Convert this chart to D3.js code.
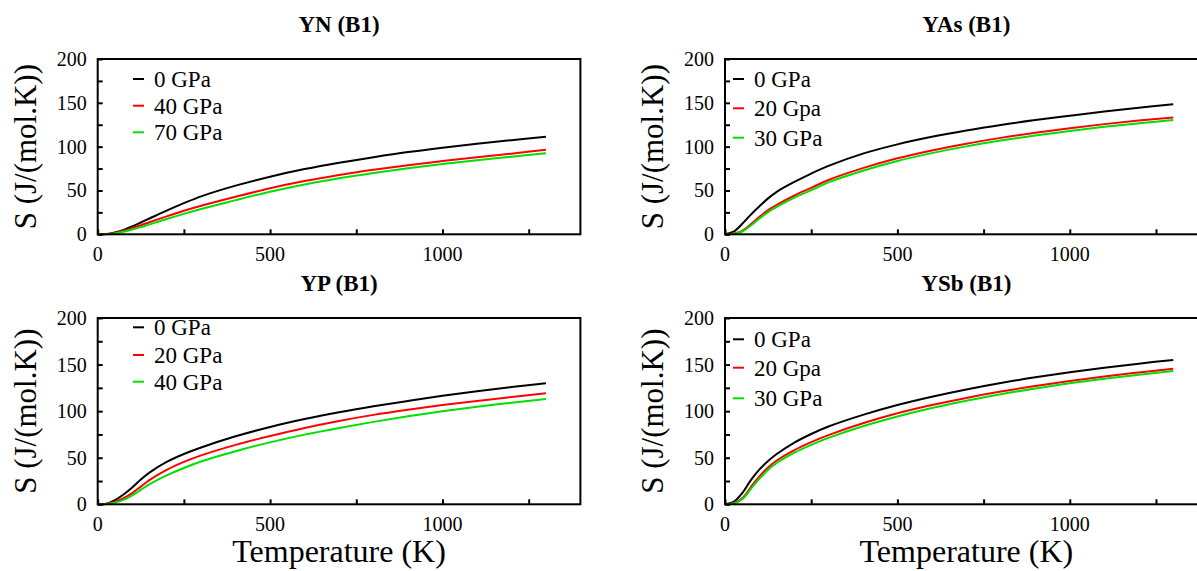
<!DOCTYPE html>
<html>
<head>
<meta charset="utf-8">
<script src="https://cdn.jsdelivr.net/npm/d3@7"></script>
<style>
  html, body { margin: 0; padding: 0; background: #fff; }
  svg { display: block; font-family: "Liberation Serif", "Times New Roman", serif; }
</style>
</head>
<body>
<svg id="chart" width="1197" height="571"></svg>
<script>
// Temperature grid (K) shared by all curves
const temps = [0, 25, 50, 75, 100, 125, 150, 200, 250, 300, 400, 500, 600, 700, 800, 900, 1000, 1100, 1200, 1300];

// Entropy S (J/(mol.K)) for each compound and pressure
const ynS0   = [0, 0.3, 2, 5, 9, 13.5, 18, 27, 35.5, 43.3, 55.5, 65.7, 74.4, 81.7, 88, 93.8, 98.8, 103.3, 107.4, 111.2];
const ynS40  = [0, 0.2, 1.5, 4, 7, 10.3, 13.8, 20.5, 26.8, 32.5, 42.8, 52.5, 60.7, 67.6, 73.6, 78.9, 83.6, 88, 92, 96.5];
const ynS70  = [0, 0.1, 1, 3, 5.5, 8.2, 11.3, 17.5, 23.3, 28.8, 39, 48.6, 56.9, 63.9, 70, 75.4, 80.2, 84.5, 88.5, 92.4];

const yasS0  = [0, 3, 12, 22.5, 32, 41, 48.5, 59.5, 69.3, 78, 92, 102.6, 111.2, 118.5, 124.8, 130.3, 135.3, 140.2, 144.5, 148.5];
const yasS20 = [0, 0.8, 4, 11.5, 20, 27.5, 33.5, 44, 53, 62, 75.5, 86.7, 95.7, 103.4, 110, 115.8, 121, 125.7, 129.7, 133.2];
const yasS30 = [0, 0.6, 3.2, 10, 18, 25.3, 31.2, 41.5, 50.3, 59.2, 72.5, 83.6, 92.6, 100.3, 106.9, 112.7, 117.9, 122.6, 126.6, 130.3];

const ypS0   = [0, 0.6, 4.5, 10.5, 18, 26.5, 34, 45.5, 54, 61, 73, 83, 91.5, 98.8, 105.2, 111, 116.5, 121.3, 125.8, 130];
const ypS20  = [0, 0.4, 2.8, 6.5, 12, 19, 26, 37, 45.5, 52.5, 63.8, 73.3, 82, 89.5, 96, 101.5, 106.5, 111, 115.2, 119.2];
const ypS40  = [0, 0.3, 1.8, 4.8, 9.5, 15.5, 21.5, 31, 39, 46, 57, 66.5, 74.8, 82, 88.5, 94.5, 100, 104.8, 109, 113];

const ysbS0  = [0, 2.5, 12, 26, 37.5, 46.5, 54, 66, 75.5, 83.5, 96, 106.6, 115.5, 123.3, 130.2, 136.3, 141.8, 146.6, 151, 155];
const ysbS20 = [0, 1.2, 6.5, 18.5, 30, 39.5, 47, 58, 66.8, 74.3, 87, 97.7, 106.5, 114.2, 121, 127, 132.4, 137.2, 141.5, 145.6];
const ysbS30 = [0, 1, 5.5, 16.5, 27.5, 37, 44.3, 55.2, 63.8, 71.3, 83.8, 94.3, 103.4, 111.2, 118.2, 124.3, 129.9, 134.7, 139, 143];

// Panel titles, legend labels and tick values
const titles = ["YN (B1)", "YAs (B1)", "YP (B1)", "YSb (B1)"];
const legendLabels = [
  ["0 GPa", "40 GPa", "70 GPa"],
  ["0 GPa", "20 Gpa", "30 GPa"],
  ["0 GPa", "20 GPa", "40 GPa"],
  ["0 GPa", "20 Gpa", "30 GPa"]
];
const seriesValues = [
  [ynS0, ynS40, ynS70],
  [yasS0, yasS20, yasS30],
  [ypS0, ypS20, ypS40],
  [ysbS0, ysbS20, ysbS30]
];
const xTickLabels = [0, 500, 1000];
const yTickLabels = [0, 50, 100, 150, 200];
const seriesColors = ["#000000", "#ff0000", "#00e000"];

const xLabel = "Temperature (K)";
const yLabel = "S (J/(mol.K))";

// Panel frames in page pixels
const frames = [
  { left: 97.7, top: 59, bottom: 234.3, legendX: 133, legendY: [79, 105.7, 132.3], showX: false },
  { left: 725,  top: 59, bottom: 234.3, legendX: 733, legendY: [79, 108.3, 137.7], showX: false },
  { left: 97.7, top: 318, bottom: 504.3, legendX: 133, legendY: [327.3, 355, 381.7], showX: true },
  { left: 725,  top: 318, bottom: 504.3, legendX: 733, legendY: [339.3, 367.7, 398.3], showX: true }
];
const plotWidth = 482.7;

const svg = d3.select("#chart");

frames.forEach((f, i) => {
  const x = d3.scaleLinear().domain([0, 1400]).range([f.left, f.left + plotWidth]);
  const y = d3.scaleLinear().domain([0, 200]).range([f.bottom, f.top]);
  const g = svg.append("g");

  // curves
  const line = d3.line()
    .x((d, k) => x(temps[k]))
    .y(d => y(d))
    .curve(d3.curveCatmullRom.alpha(0.5));
  seriesValues[i].forEach((vals, s) => {
    g.append("path")
      .attr("d", line(vals))
      .attr("fill", "none")
      .attr("stroke", seriesColors[s])
      .attr("stroke-width", 2);
  });

  // inward ticks on bottom and left
  const xAxis = d3.axisTop(x).tickValues(d3.range(0, 1400, 250)).tickSize(5).tickFormat("");
  g.append("g").attr("transform", `translate(0,${f.bottom})`).call(xAxis)
    .call(a => a.select(".domain").remove())
    .selectAll("line").attr("stroke", "#000").attr("stroke-width", 2);
  const yAxis = d3.axisRight(y).tickValues(d3.range(0, 201, 25)).tickSize(5).tickFormat("");
  g.append("g").attr("transform", `translate(${f.left},0)`).call(yAxis)
    .call(a => a.select(".domain").remove())
    .selectAll("line").attr("stroke", "#000").attr("stroke-width", 2);

  // frame
  g.append("rect")
    .attr("x", f.left).attr("y", f.top)
    .attr("width", plotWidth).attr("height", f.bottom - f.top)
    .attr("fill", "none").attr("stroke", "#000").attr("stroke-width", 2);

  // tick labels
  g.selectAll(".xt").data(xTickLabels).enter().append("text")
    .attr("x", d => x(d)).attr("y", f.bottom + 27)
    .attr("text-anchor", "middle").attr("font-size", 20).text(d => d);
  g.selectAll(".yt").data(yTickLabels).enter().append("text")
    .attr("x", f.left - 11).attr("y", d => y(d)).attr("dy", "0.35em")
    .attr("text-anchor", "end").attr("font-size", 20).text(d => d);

  // title
  g.append("text")
    .attr("x", f.left + plotWidth / 2).attr("y", f.top - 27)
    .attr("text-anchor", "middle").attr("font-size", 23).attr("font-weight", "bold")
    .text(titles[i]);

  // y label
  g.append("text")
    .attr("transform", `translate(${f.left - 62},${(f.top + f.bottom) / 2}) rotate(-90)`)
    .attr("text-anchor", "middle").attr("font-size", 31).text(yLabel);

  // x label
  if (f.showX) {
    g.append("text")
      .attr("x", f.left + plotWidth / 2).attr("y", f.bottom + 58)
      .attr("text-anchor", "middle").attr("font-size", 32).text(xLabel);
  }

  // legend
  legendLabels[i].forEach((lab, s) => {
    const ly = f.legendY[s];
    g.append("line")
      .attr("x1", f.legendX).attr("x2", f.legendX + 11)
      .attr("y1", ly).attr("y2", ly)
      .attr("stroke", seriesColors[s]).attr("stroke-width", 2);
    g.append("text")
      .attr("x", f.legendX + 21).attr("y", ly).attr("dy", "0.35em")
      .attr("font-size", 23).text(lab);
  });
});
</script>
</body>
</html>
